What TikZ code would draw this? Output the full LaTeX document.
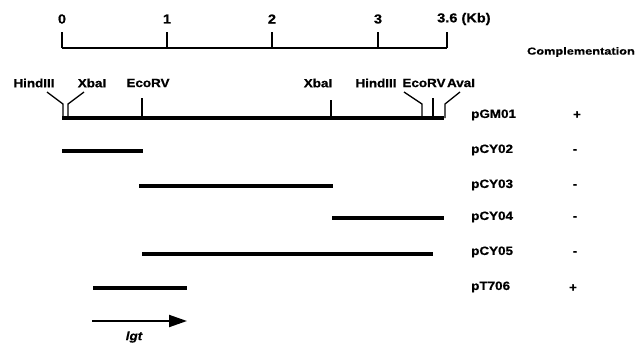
\documentclass[tikz,border=0pt]{standalone}
\usepackage{fontspec}
\setmainfont{Liberation Sans}
\newfontfamily\labfont{Liberation Sans}[FakeStretch=1.12,FakeBold=0.7]
\newfontfamily\headfont{Liberation Sans}[FakeStretch=1.25,FakeBold=0.5]
\usetikzlibrary{arrows.meta}

\tikzset{
  lbl/.style={font=\labfont\bfseries\fontsize{12}{14}\selectfont, inner sep=0pt},
  num/.style={font=\labfont\bfseries\fontsize{13}{15}\selectfont, inner sep=0pt},
  head/.style={font=\headfont\bfseries\fontsize{10.2}{12}\selectfont, inner sep=0pt},
  axisline/.style={line width=2.1pt},
  tickline/.style={line width=1.5pt},
  siteline/.style={line width=1.3pt},
  frag/.style={line width=3.3pt},
}

\begin{document}
\begin{tikzpicture}[x=1pt,y=-1pt]
\useasboundingbox (0,0) rectangle (637,346);

% ---- kilobase scale ----
\coordinate (k0) at (62,48);
\coordinate (k1) at (167,48);
\coordinate (k2) at (272,48);
\coordinate (k3) at (378,48);
\coordinate (k36) at (447,48);
\draw[axisline] (k0) -- (k36);
\foreach \k in {k0,k1,k2,k3,k36}
  \draw[tickline] (\k) -- ++(0,-16);
\node[num] (n0) at (62,19) {0};
\node[num] (n1) at (167,19) {1};
\node[num] (n2) at (272,19) {2};
\node[num] (n3) at (378,19) {3};
\node[num, anchor=west] (n36) at (437,19) {3.6 (Kb)};

\node[head, anchor=east] (compl) at (635,52) {Complementation};

% ---- restriction map of pGM01 ----
\coordinate (gL) at (62,118);
\coordinate (gR) at (444,118);
\draw[frag] (gL) -- (gR);

\node[lbl] (hind1) at (34,83) {HindIII};
\node[lbl] (xba1) at (92,83) {XbaI};
\node[lbl] (eco1) at (148,83) {EcoRV};
\node[lbl] (xba2) at (318,83) {XbaI};
\node[lbl] (hind2) at (376,83) {HindIII};
\node[lbl] (eco2) at (424,83) {EcoRV};
\node[lbl] (ava) at (461,83) {AvaI};

\coordinate (h1a) at (47,92);  \coordinate (h1b) at (63,104);  \coordinate (h1c) at (63,118);
\coordinate (x1a) at (84,92);  \coordinate (x1b) at (68,104);  \coordinate (x1c) at (68,118);
\coordinate (e1a) at (142,98); \coordinate (e1c) at (142,118);
\coordinate (x2a) at (331,100);\coordinate (x2c) at (331,118);
\coordinate (h2a) at (404,92); \coordinate (h2b) at (422,104); \coordinate (h2c) at (422,118);
\coordinate (e2a) at (433,98); \coordinate (e2c) at (433,118);
\coordinate (aa) at (460,92);  \coordinate (ab) at (445,104);  \coordinate (ac) at (445,118);

\draw[siteline] (h1a) -- (h1b) -- (h1c);
\draw[siteline] (x1a) -- (x1b) -- (x1c);
\draw[siteline] (e1a) -- (e1c);
\draw[siteline] (x2a) -- (x2c);
\draw[siteline] (h2a) -- (h2b) -- (h2c);
\draw[siteline] (e2a) -- (e2c);
\draw[siteline] (aa) -- (ab) -- (ac);

% ---- subclones ----
\coordinate (c2L) at (62,151);  \coordinate (c2R) at (143,151);
\coordinate (c3L) at (139,186); \coordinate (c3R) at (333,186);
\coordinate (c4L) at (332,218); \coordinate (c4R) at (444,218);
\coordinate (c5L) at (142,254); \coordinate (c5R) at (433,254);
\coordinate (t7L) at (93,288);  \coordinate (t7R) at (187,288);
\draw[frag] (c2L) -- (c2R);
\draw[frag] (c3L) -- (c3R);
\draw[frag] (c4L) -- (c4R);
\draw[frag] (c5L) -- (c5R);
\draw[frag] (t7L) -- (t7R);

% ---- clone names and complementation results ----
\node[lbl, anchor=west] (pGM) at (471,115) {pGM01};
\node[lbl, anchor=west] (pC2) at (471,150) {pCY02};
\node[lbl, anchor=west] (pC3) at (471,185) {pCY03};
\node[lbl, anchor=west] (pC4) at (471,217) {pCY04};
\node[lbl, anchor=west] (pC5) at (471,252) {pCY05};
\node[lbl, anchor=west] (pT) at (471,287) {pT706};

\node[lbl] (r1) at (577,115) {+};
\node[lbl] (r2) at (575,151) {-};
\node[lbl] (r3) at (575,186) {-};
\node[lbl] (r4) at (575,218) {-};
\node[lbl] (r5) at (575,253) {-};
\node[lbl] (r6) at (573,288) {+};

% ---- lgt transcript ----
\coordinate (gtL) at (92,321);
\coordinate (gtR) at (187,321);
\draw[line width=2pt, -{Triangle[length=18pt,width=12pt]}] (gtL) -- (gtR);
\node[lbl, font=\labfont\bfseries\itshape\fontsize{12}{14}\selectfont] (lgt) at (134,337) {lgt};
\end{tikzpicture}
\end{document}
